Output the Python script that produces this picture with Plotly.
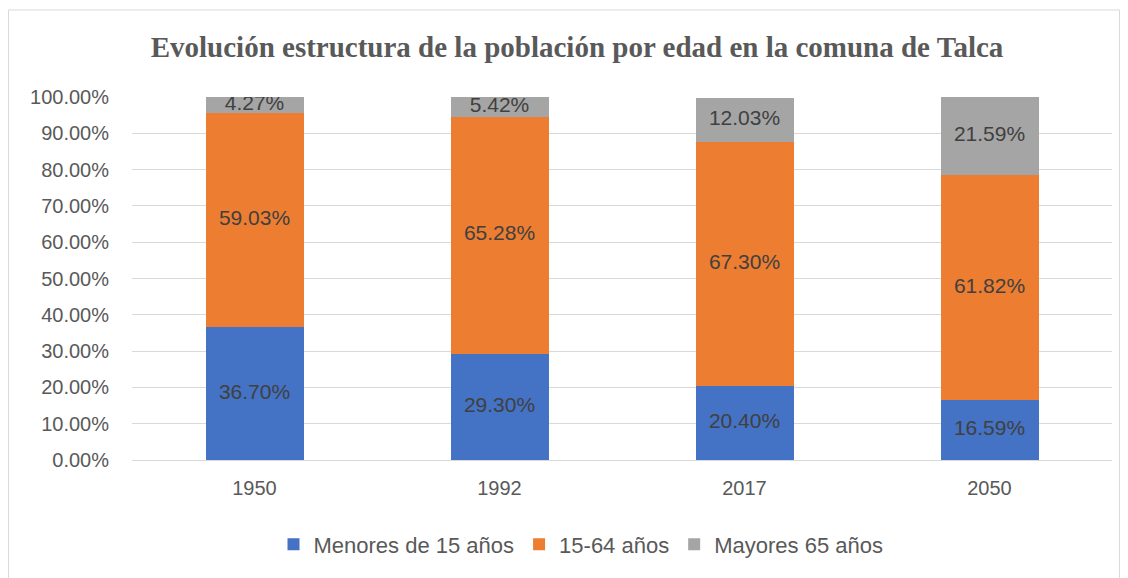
import plotly.graph_objects as go

years = ["1950", "1992", "2017", "2050"]
menores_15 = [36.70, 29.30, 20.40, 16.59]
entre_15_64 = [59.03, 65.28, 67.30, 61.82]
mayores_65 = [4.27, 5.42, 12.03, 21.59]
series_names = ["Menores de 15 años", "15-64 años", "Mayores 65 años"]
colors = ["#4472C4", "#ED7D31", "#A5A5A5"]

W, H = 1128, 578
L, R, T, B = 132, 16, 97, 116

fig = go.Figure()
series = [menores_15, entre_15_64, mayores_65]
base = [0.0] * len(years)
for name, vals, col in zip(series_names, series, colors):
    fig.add_trace(go.Bar(
        x=years, y=vals, name=name, marker=dict(color=col, line=dict(width=0)),
        width=0.4, hoverinfo="skip",
    ))
    # centred data labels, drawn as text so they can overflow small segments
    mids = [b + v / 2 for b, v in zip(base, vals)]
    fig.add_trace(go.Scatter(
        x=years, y=mids, mode="text", text=[f"{v:.2f}%" for v in vals],
        textfont=dict(family="Liberation Sans", size=21, color="#404040"),
        showlegend=False, hoverinfo="skip",
    ))
    base = [b + v for b, v in zip(base, vals)]

pw = W - L - R
ph = H - T - B
# chart-area border (bottom edge sits just below the visible page)
fig.add_shape(
    type="rect", xref="paper", yref="paper",
    x0=(8.5 - L) / pw, x1=(1119.5 - L) / pw,
    y0=(H - 590 - B) / ph, y1=(H - 9.5 - B) / ph,
    line=dict(color="#D9D9D9", width=1), fillcolor="rgba(0,0,0,0)", layer="below",
)

fig.update_layout(
    width=W, height=H,
    barmode="stack",
    margin=dict(l=L, r=R, t=T, b=B),
    paper_bgcolor="white", plot_bgcolor="white",
    title=dict(
        text="<b>Evolución estructura de la población por edad en la comuna de Talca</b>",
        x=577 / W, xanchor="center", y=1 - 47 / H, yanchor="middle",
        font=dict(family="Liberation Serif", size=29, color="#595959"),
    ),
    font=dict(family="Liberation Sans", size=20, color="#595959"),
    legend=dict(
        orientation="h", x=(581 - L) / pw, xanchor="center", y=-(547 - 462) / ph, yanchor="middle",
        font=dict(family="Liberation Sans", size=22, color="#595959"),
        traceorder="normal", itemwidth=30,
    ),
    bargap=0.6,
)
fig.update_xaxes(showgrid=False, showline=False, ticks="", tickfont=dict(size=20),
                 ticklabelstandoff=14)
fig.update_yaxes(
    range=[0, 100], dtick=10, tickformat=".2f", ticksuffix="%",
    showgrid=True, gridcolor="#D9D9D9", gridwidth=1,
    zeroline=True, zerolinecolor="#D9D9D9", zerolinewidth=1,
    showline=False, ticks="", ticklabelstandoff=22, tickfont=dict(size=20),
)

fig.write_html("out.html", config={"displayModeBar": False},
               post_script="document.body.style.margin='0';")
